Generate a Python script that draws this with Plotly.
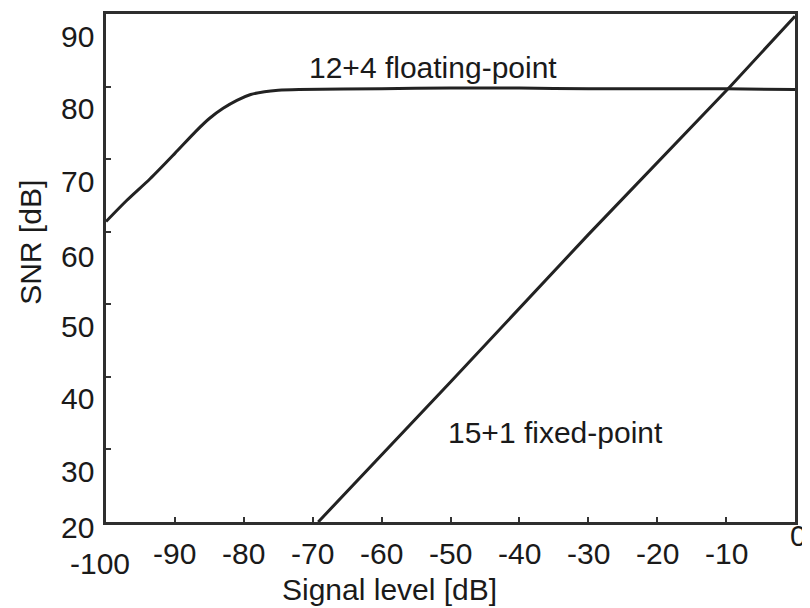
import plotly.graph_objects as go

# Data
float_x = [-100, -97, -93.6, -90, -87, -85, -83, -81, -79, -77, -75, -72, -60, -50, -40, -30, -20, -10, 0]
float_y = [61.4, 64.3, 67.3, 70.8, 73.8, 75.6, 77.0, 78.1, 78.9, 79.3, 79.5, 79.6, 79.7, 79.8, 79.8, 79.7, 79.7, 79.7, 79.6]

fixed_x = [-69.2, -50, -30, -9.4, 0]
fixed_y = [20, 39.3, 59.6, 80, 89.7]

x_tick_vals = [-100, -90, -80, -70, -60, -50, -40, -30, -20, -10, 0]
x_tick_labels = ["-100", "-90", "-80", "-70", "-60", "-50", "-40", "-30", "-20", "-10", "0"]
y_tick_vals = [20, 30, 40, 50, 60, 70, 80, 90]
y_tick_labels = ["20", "30", "40", "50", "60", "70", "80", "90"]

FONT = "Liberation Sans, Arial, Helvetica, sans-serif"
FS = 30
INK = "#1a1a1a"
LINE = "#222222"

fig = go.Figure()
fig.add_trace(go.Scatter(x=float_x, y=float_y, mode="lines",
                         line=dict(color=LINE, width=3, shape="spline", smoothing=0.8),
                         showlegend=False))
fig.add_trace(go.Scatter(x=fixed_x, y=fixed_y, mode="lines",
                         line=dict(color=LINE, width=3), showlegend=False))

ann = []
# x tick labels (scan offsets)
x_shift = {-100: (-6, -41), 0: (3, -13)}
for v, t in zip(x_tick_vals, x_tick_labels):
    dx, dy = x_shift.get(v, (0, -31))
    ann.append(dict(x=v, y=0, xref="x", yref="paper", text=t, showarrow=False,
                    xanchor="center", yanchor="middle", xshift=dx, yshift=dy,
                    font=dict(family=FONT, size=FS, color=INK)))
# y tick labels (scan offsets)
y_shift = {20: -5, 60: -25}
for v, t in zip(y_tick_vals, y_tick_labels):
    dy = y_shift.get(v, -22)
    ann.append(dict(x=0, y=v, xref="paper", yref="y", text=t, showarrow=False,
                    xanchor="right", yanchor="middle", xshift=-10, yshift=dy,
                    font=dict(family=FONT, size=FS, color=INK)))
# axis titles
ann.append(dict(x=0.412, y=0, xref="paper", yref="paper", text="Signal level [dB]",
                showarrow=False, xanchor="center", yanchor="middle", yshift=-67,
                font=dict(family=FONT, size=FS, color=INK)))
ann.append(dict(x=-0.110, y=0.55, xref="paper", yref="paper", text="SNR [dB]",
                showarrow=False, xanchor="center", yanchor="middle", textangle=-90,
                font=dict(family=FONT, size=FS, color=INK)))
# curve labels
ann.append(dict(x=-52.5, y=82.6, xref="x", yref="y", text="12+4 floating-point",
                showarrow=False, font=dict(family=FONT, size=FS, color=INK)))
ann.append(dict(x=-34.8, y=32.3, xref="x", yref="y", text="15+1 fixed-point",
                showarrow=False, font=dict(family=FONT, size=FS, color=INK)))

axis_common = dict(showgrid=False, zeroline=False, showline=True, linecolor="#2e2e2e",
                   linewidth=3, mirror=True, ticks="inside", ticklen=5, tickwidth=1.5,
                   tickcolor="#333333", showticklabels=False)

# page body adds an 8px offset, so the figure is sized/margined to compensate
fig.update_layout(
    width=802, height=600,
    margin=dict(l=98, r=15, t=3, b=86),
    paper_bgcolor="white", plot_bgcolor="white",
    xaxis=dict(range=[-100, 0], tickvals=x_tick_vals, **axis_common),
    yaxis=dict(range=[20, 90], tickvals=y_tick_vals, **axis_common),
    annotations=ann,
    showlegend=False,
)

fig.write_html("out.html")
